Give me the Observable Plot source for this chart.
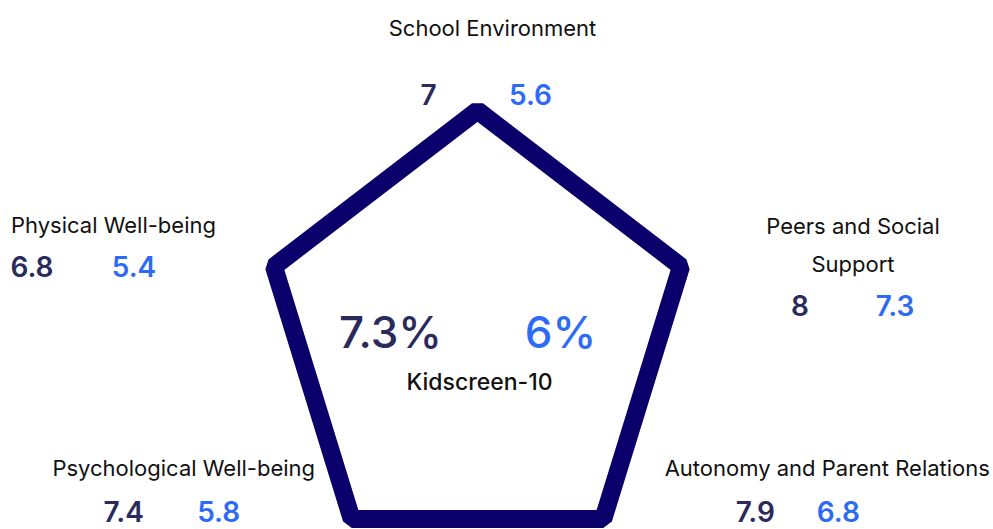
<!DOCTYPE html>
<html>
<head>
<meta charset="utf-8">
<script src="https://cdn.jsdelivr.net/npm/d3@7"></script>
<script src="https://cdn.jsdelivr.net/npm/@observablehq/plot@0.6"></script>
<style>
  html, body { margin: 0; padding: 0; background: #ffffff; }
  #chart svg { display: block; }
</style>
</head>
<body>
<div id="chart"></div>
<script>
// ---- data ----
const categories = [
  "School Environment",
  "Peers and Social\nSupport",
  "Autonomy and Parent Relations",
  "Psychological Well-being",
  "Physical Well-being"
];
const seriesA = [7, 8, 7.9, 7.4, 6.8];      // dark navy
const seriesB = [5.6, 7.3, 6.8, 5.8, 5.4];  // blue
const totals = [7.3, 6];                    // percent, navy / blue
const totalLabel = "Kidscreen-10";

// ---- layout (offsets in px from each pentagon vertex) ----
const labelLayout = [
  {dx: 15,   dy: -87, anchor: "middle"},
  {dx: 172,  dy: -26, anchor: "middle"},
  {dx: 224,  dy: -55, anchor: "middle"},
  {dx: -168, dy: -55, anchor: "middle"},
  {dx: -263, dy: -46, anchor: "start"}
];
const valueLayoutA = [
  {dx: -49, dy: -14}, {dx: 119, dy: 41}, {dx: 152, dy: -6}, {dx: -228, dy: -6}, {dx: -242, dy: 2}
];
const valueLayoutB = [
  {dx: 53, dy: -14}, {dx: 214, dy: 41}, {dx: 235, dy: -6}, {dx: -133, dy: -6}, {dx: -140, dy: 2}
];

const navyStroke = "#0b006b";
const navyText = "#2a2a5c";
const blue = "#2d6af6";

const n = categories.length;
const verts = categories.map((c, i) => {
  const a = (2 * Math.PI * i) / n;
  return {cat: c, i, u: Math.sin(a), v: Math.cos(a)};
});

const labelFont = "Inter, 'Noto Sans', sans-serif";

const marks = [
  Plot.line(verts, {
    x: "u", y: "v", curve: "linear-closed",
    stroke: navyStroke, strokeWidth: 18,
    strokeLinejoin: "miter", strokeLinecap: "butt"
  })
];

// category labels and values
verts.forEach((d, i) => {
  const L = labelLayout[i];
  marks.push(Plot.text([d], {
    x: "u", y: "v", text: "cat",
    dx: L.dx, dy: L.dy, textAnchor: L.anchor, lineAnchor: "middle",
    lineHeight: 1.75,
    fontSize: 22, fill: "#111111", fontFamily: labelFont
  }));
  marks.push(Plot.text([d], {
    x: "u", y: "v", text: () => String(seriesA[i]),
    dx: valueLayoutA[i].dx, dy: valueLayoutA[i].dy, lineAnchor: "middle",
    fontSize: 28, fontWeight: 600, fill: navyText, fontFamily: labelFont
  }));
  marks.push(Plot.text([d], {
    x: "u", y: "v", text: () => String(seriesB[i]),
    dx: valueLayoutB[i].dx, dy: valueLayoutB[i].dy, lineAnchor: "middle",
    fontSize: 28, fontWeight: 600, fill: blue, fontFamily: labelFont
  }));
});

// center totals
const center = [{u: 0, v: 0}];
marks.push(Plot.text(center, {
  x: "u", y: "v", text: () => totals[0] + "%", dx: -87, dy: -2, lineAnchor: "middle",
  fontSize: 44, fontWeight: 500, fill: navyText, fontFamily: labelFont
}));
marks.push(Plot.text(center, {
  x: "u", y: "v", text: () => totals[1] + "%", dx: 83, dy: -2, lineAnchor: "middle",
  fontSize: 44, fontWeight: 500, fill: blue, fontFamily: labelFont
}));
marks.push(Plot.text(center, {
  x: "u", y: "v", text: () => totalLabel, dx: 2, dy: 46, lineAnchor: "middle",
  fontSize: 23, fontWeight: 500, fill: "#111111", fontFamily: labelFont
}));

const chart = Plot.plot({
  width: 993,
  height: 529,
  margin: 0,
  x: {domain: [-1, 1], range: [263, 691], axis: null},
  y: {domain: [-1, 1], range: [561.6, 110], axis: null},
  style: {background: "#ffffff", overflow: "visible"},
  marks
});
document.getElementById("chart").appendChild(chart);
</script>
</body>
</html>
